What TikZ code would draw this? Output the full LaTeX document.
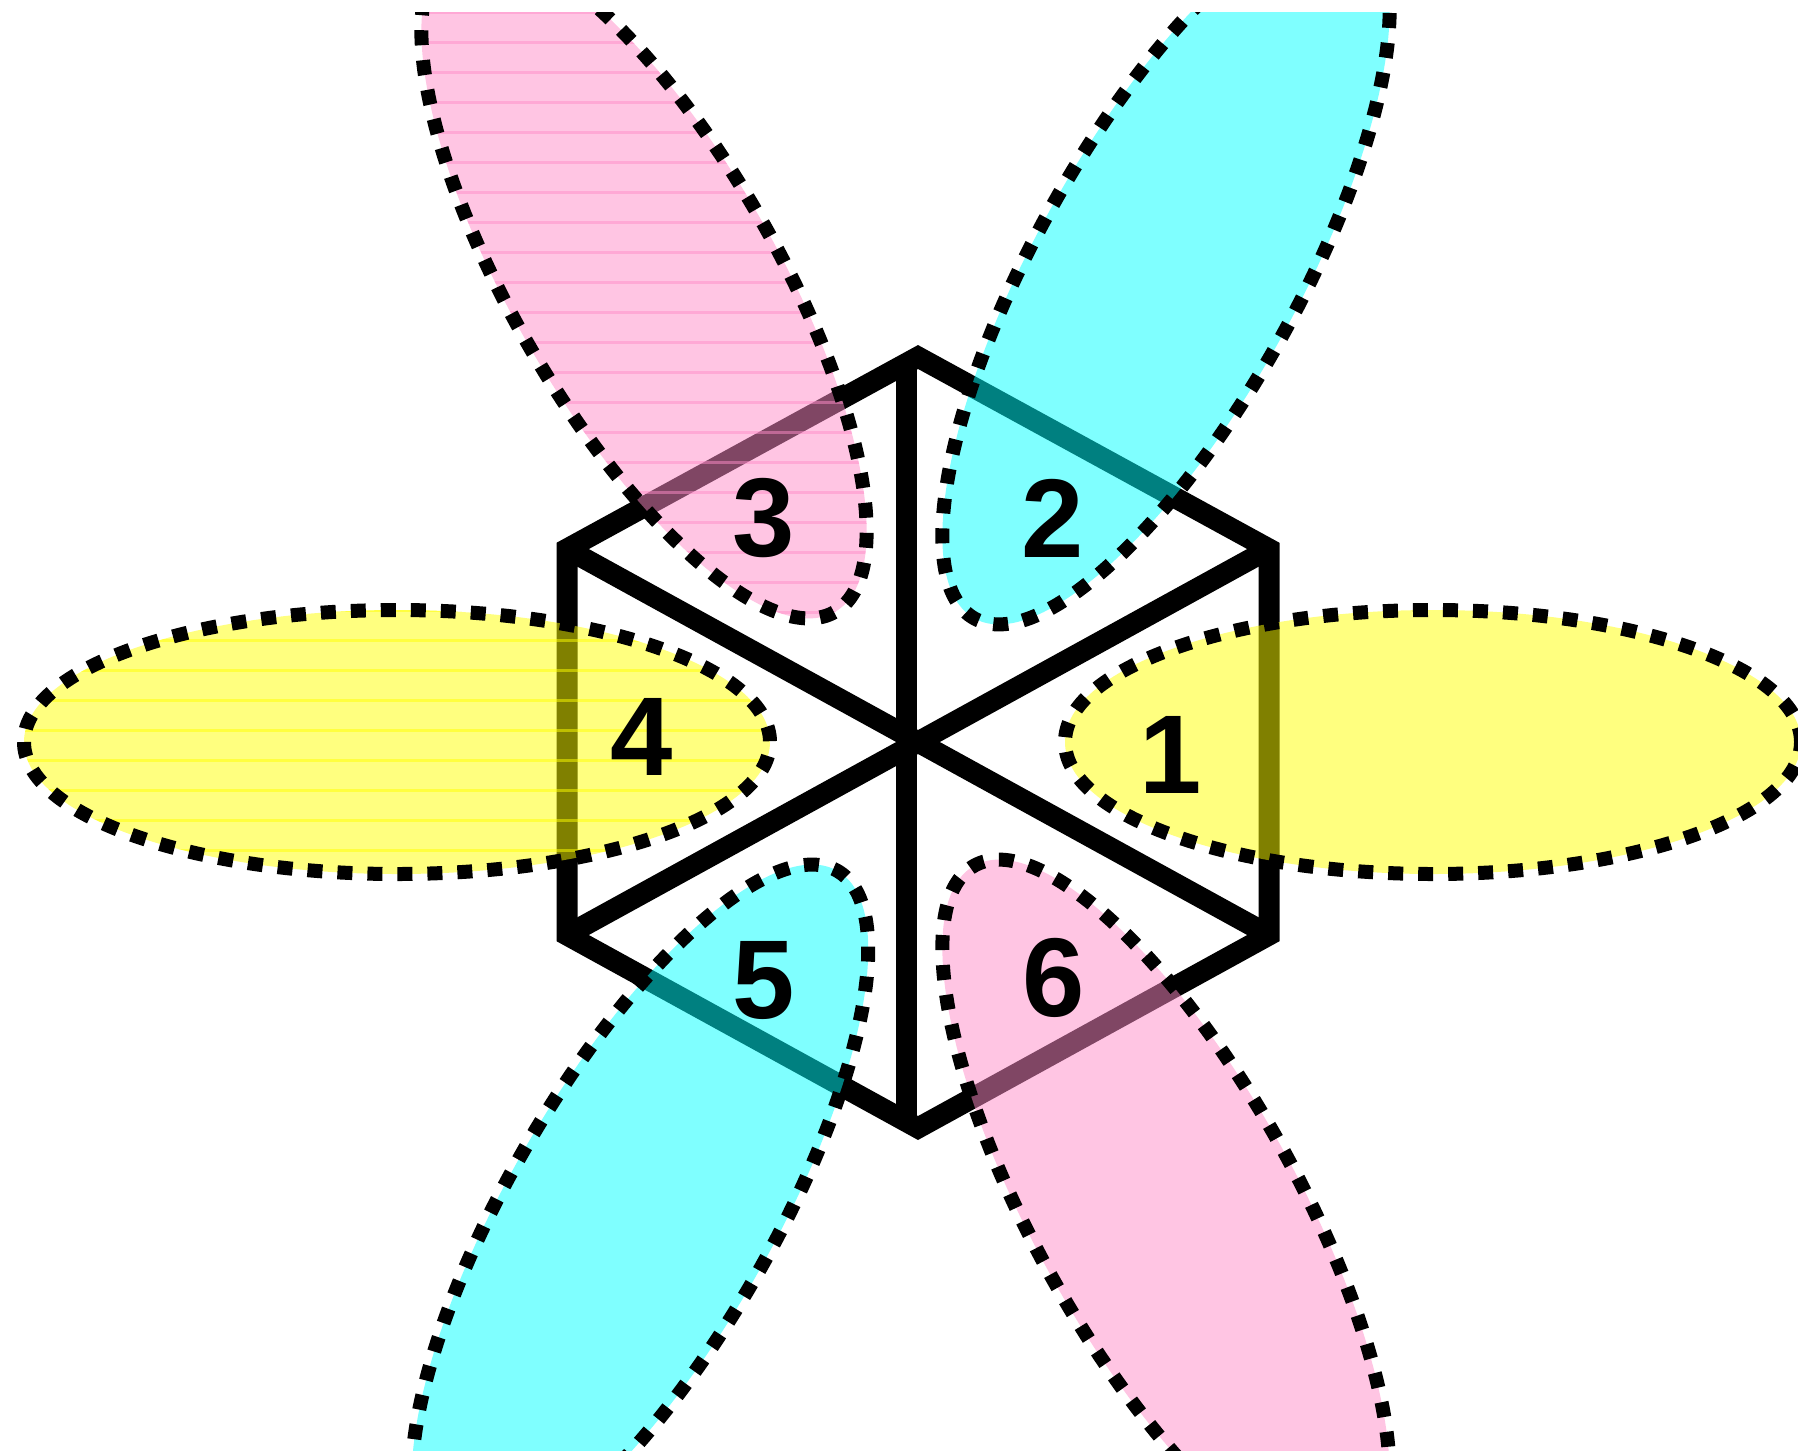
\documentclass[tikz,border=0pt]{standalone}
\usepackage{fontspec}
\setmainfont{Liberation Sans}
\definecolor{pinkfill}{RGB}{255,140,200}
\definecolor{yellowfill}{RGB}{255,255,0}
\definecolor{cyanfill}{RGB}{0,255,255}
\begin{document}
\begin{tikzpicture}[x=1pt,y=-1pt,
  hexline/.style={line width=21pt, line join=miter},
  dotborder/.style={draw=black, line width=14pt, dash pattern=on 15pt off 15pt},
  stripe/.style={line width=3pt, opacity=0.5},
  num/.style={font=\fontsize{112pt}{112pt}\selectfont\bfseries, inner sep=0pt}]
\useasboundingbox (0,0) rectangle (1798,1454);
\fill[white] (0,0) rectangle (1798,1454);
% hexagon
\coordinate (T) at (918,357);
\coordinate (UR) at (1269,549);
\coordinate (LR) at (1269,935);
\coordinate (B) at (918,1128);
\coordinate (LL) at (567,935);
\coordinate (UL) at (567,549);
\coordinate (ST) at (906,357);
\coordinate (SB) at (906,1128);
\draw[hexline] (T) -- (UR) -- (LR) -- (B) -- (LL) -- (UL) -- cycle;
\draw[hexline] (ST) -- (SB);
\draw[hexline] (UL) -- (LR);
\draw[hexline] (LL) -- (UR);
% petals: centre x / centre y / angle / semi-major / colour
\def\petals{1433/742/0/368/yellowfill,1166/273/61/395/cyanfill,644/281/120/382/pinkfill,397/742/180/373/yellowfill,640/1213/240/395/cyanfill,1166/1211/299/395/pinkfill}
\begin{scope}
\clip (0,12) rectangle (1798,1450);
\foreach \cx/\cy/\ang/\aa/\col in \petals{
  \fill[\col, fill opacity=0.5, shift={(\cx,\cy)}, rotate=\ang] (0,0) ellipse [x radius=\aa pt, y radius=132pt];
}
\begin{scope}
\clip[shift={(644,281)}, rotate=120] (0,0) ellipse [x radius=382pt, y radius=132pt];
\foreach \yy in {12,42,...,700}{
  \draw[pinkfill, stripe] (0,\yy) -- (1798,\yy);
}
\end{scope}
\begin{scope}
\clip[shift={(397,742)}] (0,0) ellipse [x radius=373pt, y radius=132pt];
\foreach \yy in {610,640,...,900}{
  \draw[yellowfill, stripe] (0,\yy) -- (1798,\yy);
}
\end{scope}
\foreach \cx/\cy/\ang/\aa/\col in \petals{
  \draw[dotborder, shift={(\cx,\cy)}, rotate=\ang] (0,0) ellipse [x radius=\aa pt, y radius=132pt];
}
\end{scope}
% labels
\node[num] (n1) at (1171,755) {1};
\node[num] (n2) at (1053,518) {2};
\node[num] (n3) at (764,518) {3};
\node[num] (n4) at (642,737) {4};
\node[num] (n5) at (764,981) {5};
\node[num] (n6) at (1054,978) {6};
\end{tikzpicture}
\end{document}
